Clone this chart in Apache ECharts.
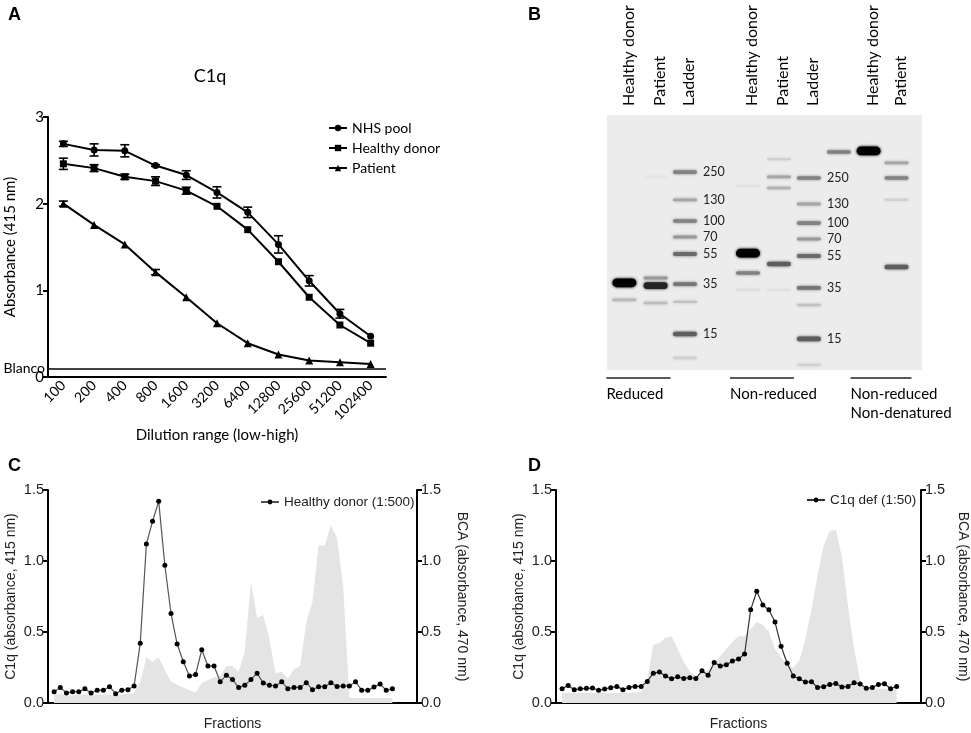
<!DOCTYPE html>
<html><head><meta charset="utf-8">
<script src="https://cdn.jsdelivr.net/npm/echarts@6/dist/echarts.min.js"></script>
<style>html,body{margin:0;padding:0;background:#fff}#c{width:971px;height:733px}</style>
</head><body><div id="c"></div>
<script>
// ---------- Panel A data ----------
const dilutions = ['100','200','400','800','1600','3200','6400','12800','25600','51200','102400'];
const nhsPool       = [2.69, 2.62, 2.61, 2.44, 2.33, 2.13, 1.90, 1.53, 1.11, 0.73, 0.47];
const nhsPoolErr    = [0.03, 0.07, 0.07, 0.01, 0.05, 0.065, 0.06, 0.10, 0.06, 0.05, 0];
const healthyDonor  = [2.46, 2.41, 2.31, 2.26, 2.15, 1.97, 1.70, 1.33, 0.92, 0.60, 0.39];
const healthyDonorErr = [0.065, 0.04, 0.03, 0.05, 0.04, 0, 0, 0, 0, 0, 0];
const patient       = [2.00, 1.755, 1.53, 1.21, 0.92, 0.62, 0.39, 0.26, 0.19, 0.17, 0.15];
const patientErr    = [0.03, 0, 0, 0.03, 0, 0, 0, 0, 0, 0, 0];
const blanco = 0.104;

// ---------- Panel B data (western blot) ----------
const laneNames = ['Healthy donor','Patient','Ladder','Healthy donor','Patient','Ladder','','Healthy donor','Patient'];
const lanePos   = [0.58, 1.62, 2.6, 4.7, 5.73, 6.73, 7.73, 8.72, 9.65];   // lane centres along the blot
// [lane, migration (0 top .. 100 bottom), intensity 0..1, marker label]
const bands = [
  [0, 65.8, 1.0, ''], [0, 72.5, 0.22, ''],
  [1, 66.9, 0.85, ''], [1, 63.9, 0.35, ''], [1, 73.7, 0.2, ''], [1, 24.3, 0.03, ''],
  [2, 22.4, 0.45, '250'], [2, 33.3, 0.3, '130'], [2, 41.6, 0.45, '100'], [2, 47.8, 0.35, '70'],
  [2, 54.5, 0.55, '55'], [2, 66.3, 0.5, '35'], [2, 73.3, 0.18, ''], [2, 85.9, 0.6, '15'], [2, 95.3, 0.12, ''],
  [3, 54.2, 1.0, ''], [3, 62.0, 0.45, ''], [3, 68.6, 0.06, ''], [3, 27.8, 0.05, ''],
  [4, 17.3, 0.12, ''], [4, 24.3, 0.3, ''], [4, 28.6, 0.25, ''], [4, 58.4, 0.6, ''], [4, 68.6, 0.05, ''],
  [5, 24.7, 0.45, '250'], [5, 34.9, 0.3, '130'], [5, 42.4, 0.45, '100'], [5, 48.6, 0.35, '70'],
  [5, 55.3, 0.55, '55'], [5, 67.8, 0.5, '35'], [5, 74.5, 0.18, ''], [5, 87.8, 0.6, '15'], [5, 98.0, 0.12, ''],
  [6, 14.5, 0.45, ''],
  [7, 14.1, 1.0, ''],
  [8, 18.8, 0.3, ''], [8, 24.7, 0.45, ''], [8, 33.3, 0.12, ''], [8, 59.6, 0.6, '']
];
const groupNames = ['Reduced', 'Non-reduced', 'Non-reduced\nNon-denatured'];
const groupLanes = [[0, 1], [3, 4], [7, 8]];

// ---------- Panel C data ----------
const c1qHealthy = [0.08,0.11,0.07,0.08,0.08,0.10,0.07,0.09,0.09,0.115,
  0.066,0.09,0.094,0.12,0.42,1.12,1.28,1.42,0.97,0.63,
  0.415,0.29,0.19,0.20,0.375,0.26,0.26,0.15,0.195,0.165,
  0.11,0.125,0.165,0.21,0.14,0.125,0.12,0.15,0.10,0.11,
  0.11,0.143,0.094,0.115,0.115,0.143,0.117,0.12,0.12,0.15,
  0.09,0.09,0.112,0.133,0.09,0.10];
const bcaHealthy = [0.06,0.065,0.05,0.055,0.06,0.06,0.055,0.06,0.06,0.06,0.055,0.06,0.065,0.07,
  0.15,0.32,0.29,0.32,0.23,0.15,0.13,0.11,0.09,0.075,
  0.14,0.16,0.18,0.19,0.26,0.26,0.22,0.36,0.85,0.60,
  0.62,0.45,0.21,0.22,0.17,0.24,0.26,0.57,0.71,1.11,
  1.11,1.25,1.16,0.82,0.035,0.035,0.035,0.035,0.035,0.035,0.035,0.035];

// ---------- Panel D data ----------
const c1qDef = [0.10,0.124,0.094,0.10,0.103,0.105,0.09,0.098,0.108,0.117,
  0.094,0.11,0.117,0.117,0.152,0.21,0.218,0.19,0.17,0.185,
  0.173,0.178,0.173,0.227,0.195,0.286,0.26,0.27,0.295,0.31,
  0.345,0.656,0.787,0.69,0.656,0.57,0.40,0.28,0.19,0.17,
  0.148,0.15,0.11,0.115,0.13,0.138,0.112,0.117,0.143,0.134,
  0.103,0.11,0.13,0.136,0.10,0.117];
const bcaDef = [0.07,0.07,0.07,0.07,0.07,0.07,0.07,0.07,0.07,0.07,0.07,0.07,0.075,0.08,
  0.16,0.41,0.42,0.46,0.47,0.38,0.29,0.22,0.19,0.21,
  0.23,0.28,0.33,0.38,0.43,0.47,0.47,0.52,0.57,0.55,
  0.50,0.38,0.32,0.27,0.25,0.30,0.45,0.66,0.90,1.11,
  1.21,1.22,1.03,0.68,0.38,0.16,
  0.10,0.10,0.10,0.10,0.10,0.095];

// ---------- build ----------
const FA = 'Lato';
const FC = 'Liberation Sans';
const pair = arr => arr.map((v, i) => [i + 1, v]);

const errData = [];
[[nhsPool, nhsPoolErr], [healthyDonor, healthyDonorErr], [patient, patientErr]].forEach(([m, e]) => {
  m.forEach((v, i) => { if (e[i] > 0) errData.push([i, v, e[i]]); });
});

function fracAxes(gridIndex) {
  const base = {
    type: 'value', gridIndex, min: 0, max: 1.5, interval: 0.5,
    axisLine: { show: true, lineStyle: { color: '#000', width: 2 } },
    axisTick: { show: true, length: 5, lineStyle: { color: '#000', width: 2 } },
    axisLabel: { formatter: v => v.toFixed(1), fontSize: 14.5, color: '#222', margin: 4, fontFamily: FC },
    splitLine: { show: false },
    nameLocation: 'middle',
    nameTextStyle: { fontSize: 14, color: '#222', fontFamily: FC }
  };
  return [
    Object.assign({}, base, { position: 'left', name: 'C1q (absorbance, 415 nm)', nameGap: 30 }),
    Object.assign({}, base, { position: 'right', name: 'BCA (absorbance, 470 nm)', nameGap: gridIndex === 2 ? 38 : 35, nameRotate: -90 })
  ];
}
function fracX(gridIndex) {
  return {
    type: 'value', gridIndex, min: 0, max: 60,
    axisLine: { show: true, onZero: false, lineStyle: { color: '#000', width: 2 } },
    axisTick: { show: false }, axisLabel: { show: false }, splitLine: { show: false },
    name: 'Fractions', nameLocation: 'middle', nameGap: 14,
    nameTextStyle: { fontSize: 14, color: '#222', fontFamily: FC }
  };
}

const option = {
  animation: false,
  backgroundColor: '#fff',
  title: [
    { text: 'A', left: 3, top: 1, textStyle: { fontSize: 18, fontWeight: 'bold', color: '#000', fontFamily: FC } },
    { text: 'B', left: 523, top: 1, textStyle: { fontSize: 18, fontWeight: 'bold', color: '#000', fontFamily: FC } },
    { text: 'C', left: 3, top: 452, textStyle: { fontSize: 18, fontWeight: 'bold', color: '#000', fontFamily: FC } },
    { text: 'D', left: 523, top: 452, textStyle: { fontSize: 18, fontWeight: 'bold', color: '#000', fontFamily: FC } },
    { text: 'C1q', left: 205, textAlign: 'center', top: 62, textStyle: { fontSize: 18, fontWeight: 'normal', color: '#000', fontFamily: FA } }
  ],
  legend: [
    { data: ['NHS pool', 'Healthy donor', 'Patient'], orient: 'vertical', left: 328, top: 121, padding: 0,
      itemWidth: 18, itemHeight: 8, itemGap: 6,
      textStyle: { fontSize: 14, color: '#000', fontFamily: FA } },
    { data: ['Healthy donor (1:500)'], left: 260, top: 495, padding: 0, itemWidth: 18, itemHeight: 6,
      textStyle: { fontSize: 13.5, color: '#222', fontFamily: FC } },
    { data: ['C1q def (1:50)'], left: 806, top: 493, padding: 0, itemWidth: 18, itemHeight: 6,
      textStyle: { fontSize: 13.5, color: '#222', fontFamily: FC } }
  ],
  grid: [
    { left: 48, top: 117, width: 338, height: 260 },
    { left: 607, top: 115, width: 315, height: 255, show: true, backgroundColor: '#ececec', borderWidth: 0 },
    { left: 48, top: 490, width: 369, height: 213 },
    { left: 556, top: 490, width: 366, height: 213 }
  ],
  xAxis: [
    { type: 'category', gridIndex: 0, data: dilutions, boundaryGap: true,
      axisLine: { lineStyle: { color: '#000', width: 2 } },
      axisTick: { alignWithLabel: true, length: 5, lineStyle: { color: '#000', width: 2 } },
      axisLabel: { rotate: 45, fontSize: 14, color: '#000', margin: 6, fontFamily: FA, interval: 0 },
      name: 'Dilution range (low-high)', nameLocation: 'middle', nameGap: 51,
      nameTextStyle: { fontSize: 15, color: '#000', fontFamily: FA } },
    { type: 'value', gridIndex: 1, min: 0, max: 10.5, show: false },
    fracX(2), fracX(3)
  ],
  yAxis: [
    { type: 'value', gridIndex: 0, min: 0, max: 3, interval: 1,
      axisLine: { show: true, lineStyle: { color: '#000', width: 2 } },
      axisTick: { show: true, length: 5, lineStyle: { color: '#000', width: 2 } },
      axisLabel: { fontSize: 15, color: '#000', margin: 4, fontFamily: FA },
      splitLine: { show: false },
      name: 'Absorbance (415 nm)', nameLocation: 'middle', nameGap: 30,
      nameTextStyle: { fontSize: 15, color: '#000', fontFamily: FA } },
    { type: 'value', gridIndex: 1, min: 0, max: 100, inverse: true, show: false },
    ...fracAxes(2), ...fracAxes(3)
  ],
  series: [
    // ----- A -----
    { name: 'NHS pool', type: 'line', xAxisIndex: 0, yAxisIndex: 0, data: nhsPool,
      symbol: 'circle', symbolSize: 7, lineStyle: { color: '#000', width: 2 }, itemStyle: { color: '#000' }, z: 3 },
    { name: 'Healthy donor', type: 'line', xAxisIndex: 0, yAxisIndex: 0, data: healthyDonor,
      symbol: 'rect', symbolSize: 7, lineStyle: { color: '#000', width: 2 }, itemStyle: { color: '#000' }, z: 3 },
    { name: 'Patient', type: 'line', xAxisIndex: 0, yAxisIndex: 0, data: patient,
      symbol: 'triangle', symbolSize: 8, lineStyle: { color: '#000', width: 2 }, itemStyle: { color: '#000' }, z: 3,
      markLine: { silent: true, symbol: ['none', 'none'],
        lineStyle: { color: '#000', width: 1.5, type: 'solid' },
        label: { position: 'start', formatter: 'Blanco', color: '#000', fontSize: 14, fontFamily: FA, distance: 3 },
        data: [{ yAxis: blanco }] } },
    { name: 'err', type: 'custom', xAxisIndex: 0, yAxisIndex: 0, data: errData, z: 4, silent: true,
      renderItem(params, api) {
        const x = api.value(0), m = api.value(1), e = api.value(2);
        const hi = api.coord([x, m + e]), lo = api.coord([x, m - e]);
        const cw = 4.5;
        const st = { stroke: '#000', lineWidth: 1.6 };
        return { type: 'group', children: [
          { type: 'line', shape: { x1: hi[0], y1: hi[1], x2: lo[0], y2: lo[1] }, style: st },
          { type: 'line', shape: { x1: hi[0] - cw, y1: hi[1], x2: hi[0] + cw, y2: hi[1] }, style: st },
          { type: 'line', shape: { x1: lo[0] - cw, y1: lo[1], x2: lo[0] + cw, y2: lo[1] }, style: st }
        ] };
      } },
    // ----- B -----
    { name: 'bands', type: 'custom', xAxisIndex: 1, yAxisIndex: 1, clip: false, silent: true,
      data: bands.map(b => [lanePos[b[0]], b[1], b[2]]),
      renderItem(params, api) {
        const c = api.coord([api.value(0), api.value(1)]);
        const inten = api.value(2);
        const w = api.size([0.8, 0])[0];
        const h = 2.2 + 6.5 * inten * inten;
        const g = Math.round(236 * (1 - inten));
        const col = 'rgb(' + g + ',' + g + ',' + g + ')';
        const children = [{ type: 'rect', shape: { x: c[0] - w / 2, y: c[1] - h / 2, width: w, height: h, r: h / 2 },
          style: { fill: col, shadowBlur: 3, shadowColor: col } }];
        const lbl = bands[params.dataIndex][3];
        if (lbl) children.push({ type: 'text', x: c[0] + w / 2 + 6, y: c[1],
          style: { text: lbl, fill: '#222', font: '12.5px ' + FA, align: 'left', verticalAlign: 'middle' } });
        return { type: 'group', children };
      } },
    { name: 'lanes', type: 'custom', xAxisIndex: 1, yAxisIndex: 1, clip: false, silent: true,
      data: lanePos.map(p => [p, 0]),
      renderItem(params, api) {
        const c = api.coord([api.value(0), 0]);
        return { type: 'text', x: c[0] + 4, y: c[1] - 9, rotation: Math.PI / 2,
          style: { text: laneNames[params.dataIndex], fill: '#000', font: '16px ' + FA, align: 'left', verticalAlign: 'middle' } };
      } },
    { name: 'groups', type: 'custom', xAxisIndex: 1, yAxisIndex: 1, clip: false, silent: true,
      data: groupLanes.map(g => [lanePos[g[0]] - 0.6, lanePos[g[1]] + 0.5]),
      renderItem(params, api) {
        const a = api.coord([api.value(0), 100]), b = api.coord([api.value(1), 100]);
        return { type: 'group', children: [
          { type: 'line', shape: { x1: a[0], y1: a[1] + 8, x2: b[0], y2: b[1] + 8 }, style: { stroke: '#222', lineWidth: 1.6 } },
          { type: 'text', x: a[0], y: a[1] + 15,
            style: { text: groupNames[params.dataIndex], fill: '#000', font: '15px ' + FA, align: 'left', verticalAlign: 'top', lineHeight: 19 } }
        ] };
      } },
    // ----- C -----
    { name: 'BCA C', type: 'line', xAxisIndex: 2, yAxisIndex: 3, data: pair(bcaHealthy), symbol: 'none',
      lineStyle: { width: 0 }, areaStyle: { color: '#e4e4e4', opacity: 1 }, z: 1, silent: true },
    { name: 'Healthy donor (1:500)', type: 'line', xAxisIndex: 2, yAxisIndex: 2, data: pair(c1qHealthy),
      symbol: 'circle', symbolSize: 5, lineStyle: { color: '#555', width: 1.2 }, itemStyle: { color: '#000' }, z: 3 },
    // ----- D -----
    { name: 'BCA D', type: 'line', xAxisIndex: 3, yAxisIndex: 5, data: pair(bcaDef), symbol: 'none',
      lineStyle: { width: 0 }, areaStyle: { color: '#e4e4e4', opacity: 1 }, z: 1, silent: true },
    { name: 'C1q def (1:50)', type: 'line', xAxisIndex: 3, yAxisIndex: 4, data: pair(c1qDef),
      symbol: 'circle', symbolSize: 5, lineStyle: { color: '#333', width: 1.2 }, itemStyle: { color: '#000' }, z: 3 }
  ]
};

const chart = echarts.init(document.getElementById('c'));
chart.setOption(option);
</script>
</body></html>
